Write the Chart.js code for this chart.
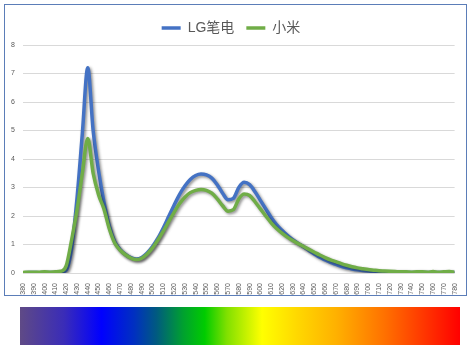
<!DOCTYPE html>
<html>
<head>
<meta charset="utf-8">
<script src="https://cdn.jsdelivr.net/npm/chart.js@4.4.1/dist/chart.umd.min.js"></script>
<style>
    html, body { margin: 0; padding: 0; background: #fff; }
    body { width: 475px; height: 355px; position: relative; overflow: hidden; }
    #frame {
        position: absolute; left: 4px; top: 4px; width: 463px; height: 292px;
        box-sizing: border-box; border: 1.5px solid #5b7db8;
    }
    #wrap { position: absolute; left: 5px; top: 5px; width: 460px; height: 290px; }
    #spectrum {
        position: absolute; left: 20px; top: 307px; width: 440px; height: 38px;
        background: linear-gradient(to right,
            #5f4a86 0%, #3a2cb8 10%, #0000ff 18.5%, #0030c0 26%, #005a80 31%,
            #00a030 37%, #00cc00 42%, #80e000 47%, #ffff00 55%,
            #ffd800 63%, #ffb000 72%, #ff7000 83%, #ff0000 100%);
    }
</style>
</head>
<body>
<div id="frame"></div>
<div id="wrap"><canvas id="spectrumChart"></canvas></div>
<div id="spectrum"></div>

<script>
// wavelength (nm), 5 nm steps
const wavelengths = [
    380, 385, 390, 395, 400, 405, 410, 415, 420, 425,
    430, 435, 440, 445, 450, 455, 460, 465, 470, 475,
    480, 485, 490, 495, 500, 505, 510, 515, 520, 525,
    530, 535, 540, 545, 550, 555, 560, 565, 570, 575,
    580, 585, 590, 595, 600, 605, 610, 615, 620, 625,
    630, 635, 640, 645, 650, 655, 660, 665, 670, 675,
    680, 685, 690, 695, 700, 705, 710, 715, 720, 725,
    730, 735, 740, 745, 750, 755, 760, 765, 770, 775,
    780
];

const seriesNames = ['LG笔电', '小米'];

const lgValues = [
    0.00, 0.02, 0.02, 0.01, 0.02, 0.02, 0.02, 0.03, 0.10, 0.85,
    2.60, 4.90, 7.20, 5.00, 3.60, 2.50, 1.65, 1.10, 0.82, 0.65,
    0.54, 0.49, 0.54, 0.70, 0.93, 1.22, 1.58, 1.98, 2.38, 2.75,
    3.05, 3.28, 3.42, 3.47, 3.44, 3.33, 3.10, 2.80, 2.57, 2.62,
    3.00, 3.18, 3.10, 2.85, 2.55, 2.25, 1.95, 1.70, 1.50, 1.32,
    1.17, 1.04, 0.92, 0.79, 0.67, 0.55, 0.46, 0.37, 0.30, 0.23,
    0.18, 0.14, 0.11, 0.09, 0.07, 0.05, 0.04, 0.03, 0.03, 0.02,
    0.02, 0.02, 0.02, 0.02, 0.02, 0.02, 0.02, 0.02, 0.02, 0.02,
    0.02
];

const xiaomiValues = [
    0.02, 0.03, 0.03, 0.03, 0.04, 0.03, 0.04, 0.06, 0.25, 1.15,
    2.20, 3.50, 4.72, 3.50, 2.75, 2.25, 1.55, 1.05, 0.80, 0.64,
    0.52, 0.47, 0.52, 0.67, 0.88, 1.16, 1.47, 1.80, 2.13, 2.43,
    2.66, 2.82, 2.90, 2.93, 2.90, 2.80, 2.60, 2.36, 2.17, 2.22,
    2.60, 2.77, 2.72, 2.50, 2.25, 2.00, 1.76, 1.56, 1.40, 1.26,
    1.14, 1.03, 0.93, 0.83, 0.73, 0.63, 0.54, 0.46, 0.40, 0.33,
    0.27, 0.22, 0.18, 0.15, 0.12, 0.10, 0.08, 0.07, 0.06, 0.05,
    0.04, 0.04, 0.03, 0.04, 0.04, 0.03, 0.05, 0.03, 0.04, 0.05,
    0.03
];

const yMin = 0;
const yMax = 8;
const xMin = 380;
const xMax = 780;

const FONT = "'Liberation Sans', 'Noto Sans CJK SC', sans-serif";

// Excel-style soft shadow under the lines
const lineShadow = {
    id: 'lineShadow',
    beforeDatasetDraw(chart) {
        const ctx = chart.ctx;
        ctx.save();
        ctx.shadowColor = 'rgba(0, 0, 0, 0.45)';
        ctx.shadowBlur = 3;
        ctx.shadowOffsetX = 1.5;
        ctx.shadowOffsetY = 1.5;
    },
    afterDatasetDraw(chart) {
        chart.ctx.restore();
    }
};

function toPoints(values) {
    return wavelengths.map((w, i) => ({ x: w, y: values[i] }));
}

new Chart(document.getElementById('spectrumChart'), {
    type: 'line',
    data: {
        datasets: [
            {
                label: seriesNames[0],
                data: toPoints(lgValues),
                borderColor: '#4472c4',
                backgroundColor: '#4472c4',
                borderWidth: 3.5,
                pointRadius: 0,
                cubicInterpolationMode: 'monotone',
                order: 2
            },
            {
                label: seriesNames[1],
                data: toPoints(xiaomiValues),
                borderColor: '#70ad47',
                backgroundColor: '#70ad47',
                borderWidth: 3.5,
                pointRadius: 0,
                cubicInterpolationMode: 'monotone',
                order: 1
            }
        ]
    },
    options: {
        responsive: true,
        maintainAspectRatio: false,
        animation: false,
        layout: { padding: { top: 4, right: 8, left: 0, bottom: 0 } },
        plugins: {
            tooltip: { enabled: false },
            legend: {
                position: 'top',
                labels: {
                    usePointStyle: true,
                    pointStyle: 'line',
                    pointStyleWidth: 19,
                    color: '#595959',
                    font: { family: FONT, size: 14 },
                    padding: 12,
                    sort: (a, b) => a.datasetIndex - b.datasetIndex
                }
            }
        },
        scales: {
            x: {
                type: 'linear',
                min: xMin,
                max: xMax,
                grid: { display: false },
                border: { display: false },
                ticks: {
                    stepSize: 10,
                    autoSkip: false,
                    minRotation: 90,
                    maxRotation: 90,
                    padding: 2,
                    color: '#595959',
                    font: { family: FONT, size: 7 }
                },
                afterFit: (scale) => { scale.height = 22; }
            },
            y: {
                min: yMin,
                max: yMax,
                grid: { color: '#d9d9d9', drawTicks: false },
                border: { display: false },
                ticks: {
                    stepSize: 1,
                    padding: 8,
                    color: '#595959',
                    font: { family: FONT, size: 7 }
                },
                afterFit: (scale) => { scale.width = 18; }
            }
        }
    },
    plugins: [lineShadow]
});
</script>
</body>
</html>
